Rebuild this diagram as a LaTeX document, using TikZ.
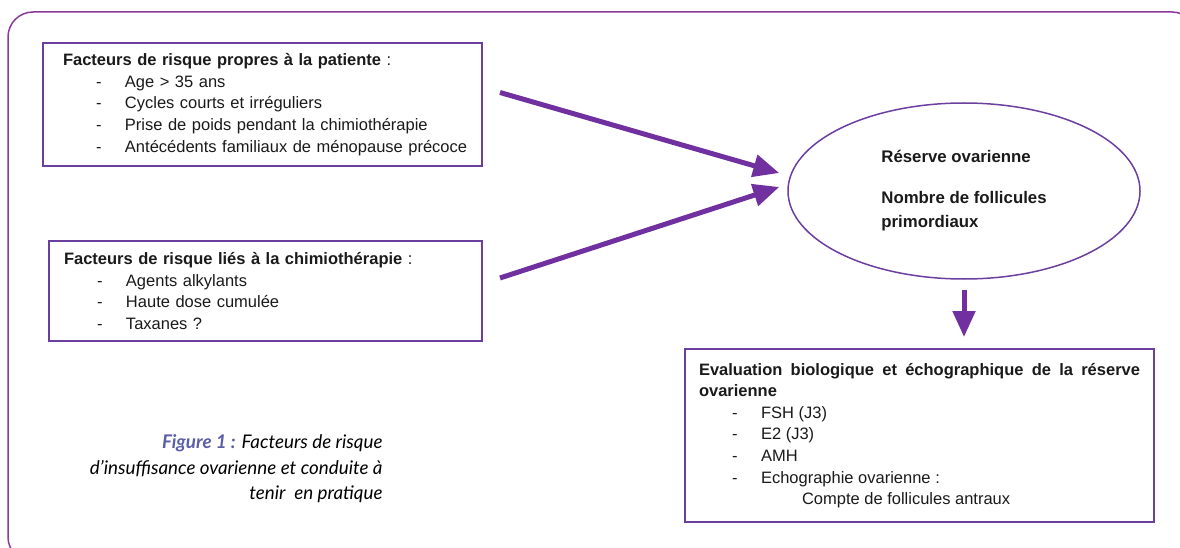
\documentclass[tikz,border=0pt]{standalone}
\usepackage{fontspec}
\setmainfont{Liberation Sans}
\newfontfamily\legende{Lato}
\usetikzlibrary{shapes.geometric,arrows.meta}
\tikzset {>={Triangle[length=26pt,width=22pt]}}
\definecolor{cadre}{HTML}{8A3B9A}
\definecolor{bordure}{HTML}{6B3FA0}
\definecolor{violetfl}{HTML}{7030A0}
\definecolor{figbleu}{HTML}{5A5DA8}
\definecolor{texte}{HTML}{1A1A1A}
\newcommand\puce[1]{\hspace*{33pt}\makebox[29pt][l]{-}\mbox{#1}}

\begin{document}
\begin{tikzpicture}[x=1pt,y=-1pt,
  boite/.style={draw=bordure,line width=2pt,anchor=north west,align=left,
    text=texte,font=\fontsize{16.5}{21.6}\selectfont},
  fleche/.style={->,draw=violetfl,line width=5pt}]
\useasboundingbox (0,0) rectangle (1180,548);
\begin{scope}
\clip (0,0) rectangle (1180,548);
\draw[cadre,line width=1.5pt,rounded corners=25pt] (8,12) rectangle (1197,562);
\end{scope}
\node[boite,inner xsep=20pt,text width=399pt,minimum height=123pt] (patiente) at (42,42)
  {\textbf{Facteurs de risque propres à la patiente} :\\
   \puce{Age > 35 ans}\\
   \puce{Cycles courts et irréguliers}\\
   \puce{Prise de poids pendant la chimiothérapie}\\
   \puce{Antécédents familiaux de ménopause précoce}};
\node[boite,inner xsep=15pt,text width=403pt,minimum height=100pt] (chimio) at (48,240)
  {\textbf{Facteurs de risque liés à la chimiothérapie} :\\
   \puce{Agents alkylants}\\
   \puce{Haute dose cumulée}\\
   \puce{Taxanes ?}};
\node[boite,align=justify,inner xsep=14pt,text width=441pt,minimum height=173pt] (evaluation) at (684,348)
  {\textbf{Evaluation biologique et échographique de la réserve \mbox{ovarienne}}\\
   \puce{FSH (J3)}\\
   \puce{E2 (J3)}\\
   \puce{AMH}\\
   \puce{Echographie ovarienne :}\\
   \hspace*{103pt}Compte de follicules antraux};
\node[ellipse,draw=bordure,line width=1.5pt,minimum width=352pt,minimum height=176pt,
  inner sep=0pt,align=left,text=texte,font=\bfseries\fontsize{16.8}{24}\selectfont] (reserve) at (964,191)
  {Réserve ovarienne\\[17pt]Nombre de follicules\\primordiaux};
\node[anchor=east,align=right,font=\legende\itshape\fontsize{18.8}{25.5}\selectfont] (legende) at (386,469)
  {\textcolor{figbleu}{\bfseries Figure 1 :} Facteurs de risque\\d’insuffisance ovarienne et conduite à\\tenir~ en pratique};
\coordinate (p1) at ([xshift=17pt,yshift=12pt]patiente.east);
\coordinate (q1) at ([xshift=-8pt,yshift=18pt]reserve.west);
\coordinate (p2) at ([xshift=17pt,yshift=13pt]chimio.east);
\coordinate (q2) at ([xshift=-8pt,yshift=4pt]reserve.west);
\foreach \de/\vers in {p1/q1,p2/q2}
  \draw[fleche] (\de) -- (\vers);
\draw[fleche] ([yshift=-10pt]reserve.south) -- ([yshift=11pt]reserve.south |- evaluation.north);
\end{tikzpicture}
\end{document}
